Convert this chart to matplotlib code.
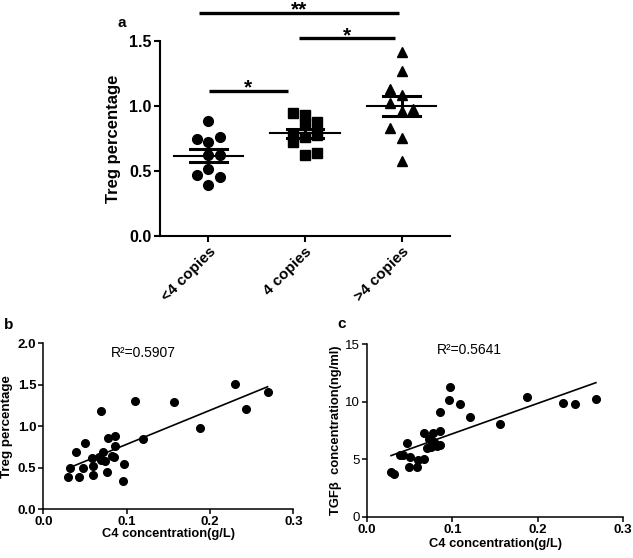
import numpy as np
import matplotlib
matplotlib.use("Agg")
import matplotlib.pyplot as plt

plt.rcParams["font.family"] = ["Liberation Sans", "DejaVu Sans"]

# panel a: Treg percentage by C4 copy number
groups = ["<4 copies", "4 copies", ">4 copies"]
treg_lt4 = [0.885, 0.744, 0.726, 0.760, 0.623, 0.623, 0.469, 0.513, 0.456, 0.392]
treg_eq4 = [0.944, 0.780, 0.720, 0.930, 0.860, 0.760, 0.623, 0.875, 0.780, 0.636]
treg_gt4 = [1.418, 1.270, 1.130, 1.020, 1.085, 0.960, 0.980, 0.830, 0.756, 0.577]
# column of each point in the scatter (-1 left, 0 centre, 1 right)
col_lt4 = [0, -1, 0, 1, 0, 1, -1, 0, 1, 0]
col_eq4 = [-1, -1, -1, 0, 0, 0, 0, 1, 1, 1]
col_gt4 = [0, 0, -1, -1, 0, 0, 1, -1, 0, 0]

# panel b: C4 vs Treg percentage
c4_b = [0.029, 0.032, 0.039, 0.043, 0.048, 0.050, 0.058, 0.059, 0.060, 0.067,
        0.069, 0.069, 0.071, 0.074, 0.076, 0.077, 0.082, 0.085, 0.086, 0.086,
        0.097, 0.096, 0.110, 0.120, 0.157, 0.188, 0.230, 0.243, 0.269]
treg_b = [0.394, 0.494, 0.695, 0.394, 0.494, 0.795, 0.614, 0.522, 0.414, 0.627,
          1.189, 0.594, 0.695, 0.582, 0.454, 0.863, 0.643, 0.635, 0.763, 0.884,
          0.542, 0.341, 1.305, 0.843, 1.293, 0.976, 1.510, 1.213, 1.410]

# panel c: C4 vs TGFb
c4_c = [0.028, 0.032, 0.038, 0.042, 0.047, 0.049, 0.050, 0.058, 0.060, 0.067,
        0.067, 0.070, 0.073, 0.075, 0.077, 0.078, 0.082, 0.085, 0.085, 0.085,
        0.096, 0.097, 0.109, 0.120, 0.156, 0.1875, 0.229, 0.243, 0.268]
tgfb_c = [3.92, 3.71, 5.37, 5.37, 6.38, 4.29, 5.16, 4.35, 4.93, 4.99,
          7.25, 5.95, 6.73, 6.09, 7.25, 6.53, 6.18, 6.24, 7.48, 9.08,
          10.15, 11.26, 9.78, 8.70, 8.07, 10.39, 9.86, 9.78, 10.24]

fig = plt.figure(figsize=(6.33, 5.58), dpi=100)

# ---------------- panel a ----------------
ax = fig.add_axes([0.2528, 0.577, 0.458, 0.3495])
markers = ["o", "s", "^"]
msizes = [7, 6.5, 7]
for i, (vals, cols) in enumerate([(treg_lt4, col_lt4), (treg_eq4, col_eq4), (treg_gt4, col_gt4)]):
    v = np.array(vals)
    x = i + 0.12 * np.array(cols)
    ax.plot(x, v, linestyle="none", marker=markers[i], ms=msizes[i], color="black",
            clip_on=False, zorder=3)
    m = v.mean()
    sem = v.std(ddof=1) / np.sqrt(len(v))
    ax.plot([i - 0.36, i + 0.36], [m, m], color="black", lw=1.5, zorder=4)
    ax.plot([i - 0.19, i + 0.19], [m + sem, m + sem], color="black", lw=2.2, zorder=4)
    ax.plot([i - 0.19, i + 0.19], [m - sem, m - sem], color="black", lw=2.2, zorder=4)
    ax.plot([i, i], [m - sem, m + sem], color="black", lw=2.2, zorder=4)

ax.set_xlim(-0.5, 2.5)
ax.set_ylim(0, 1.5)
ax.set_yticks([0, 0.5, 1.0, 1.5])
ax.set_yticklabels(["0.0", "0.5", "1.0", "1.5"], fontsize=11.5, fontweight="bold")
ax.set_xticks(range(3))
ax.set_xticklabels(groups, rotation=45, ha="right", rotation_mode="anchor",
                   fontsize=11, fontweight="bold")
ax.set_ylabel("Treg percentage", fontsize=12, fontweight="bold", labelpad=6)
for s in ["top", "right"]:
    ax.spines[s].set_visible(False)
for s in ["left", "bottom"]:
    ax.spines[s].set_linewidth(1.5)
ax.tick_params(width=1.5, length=4, pad=2)

# significance bars
sig = [(0.01, 0.82, 1.115, "*"), (0.94, 1.93, 1.52, "*"), (-0.10, 1.97, 1.715, "**")]
for x0, x1, y, lab in sig:
    ax.plot([x0, x1], [y, y], color="black", lw=2.4, clip_on=False, solid_capstyle="butt")
    ax.annotate(lab, xy=((x0 + x1) / 2, y), xytext=(0, -2), textcoords="offset points",
                ha="center", va="baseline", fontsize=15, fontweight="bold",
                annotation_clip=False)

fig.text(122 / 633, 1 - 23 / 558, "a", fontsize=11, fontweight="bold", ha="center", va="center")


# ---------------- scatter panels ----------------
def scatter_panel(rect, xv, yv, ylim, yticks, yticklabels, ybold, ylabel, r2, r2y,
                  ylab_x, xlab_y, ylab_size):
    a = fig.add_axes(rect)
    a.plot(xv, yv, linestyle="none", marker="o", ms=5.5, color="black", clip_on=False)
    k, b = np.polyfit(xv, yv, 1)
    xs = np.array([min(xv), max(xv)])
    a.plot(xs, k * xs + b, color="black", lw=1.2)
    a.set_xlim(0, 0.3)
    a.set_ylim(*ylim)
    a.set_xticks([0, 0.1, 0.2, 0.3])
    a.set_xticklabels(["0.0", "0.1", "0.2", "0.3"], fontsize=9.5, fontweight="bold")
    a.set_yticks(yticks)
    a.set_yticklabels(yticklabels, fontsize=9.5, fontweight=ybold)
    a.set_xlabel("C4 concentration(g/L)", fontsize=9.3, fontweight="bold")
    a.set_ylabel(ylabel, fontsize=ylab_size, fontweight="bold")
    a.yaxis.set_label_coords(ylab_x, 0.5)
    a.xaxis.set_label_coords(0.5, xlab_y)
    for s in ["top", "right"]:
        a.spines[s].set_visible(False)
    for s in ["left", "bottom"]:
        a.spines[s].set_linewidth(1.1)
    a.tick_params(width=1.1, length=3.5, pad=1.5)
    a.text(0.12, r2y, "R\u00b2=" + r2, ha="center", va="center", fontsize=10)
    return a


scatter_panel([0.0685, 0.0873, 0.395, 0.2975], c4_b, treg_b, (0, 2.0),
              [0, 0.5, 1.0, 1.5, 2.0], ["0.0", "0.5", "1.0", "1.5", "2.0"], "bold",
              "Treg percentage", "0.5907", 1.88, -0.12, -0.11, 9.6)
scatter_panel([0.580, 0.074, 0.4045, 0.309], c4_c, tgfb_c, (0, 15),
              [0, 5, 10, 15], ["0", "5", "10", "15"], "normal",
              "TGF\u03b2  concentration(ng/ml)", "0.5641", 14.5, -0.099, -0.125, 9.4)

fig.text(9 / 633, 1 - 325 / 558, "b", fontsize=11, fontweight="bold", ha="center", va="center")
fig.text(342 / 633, 1 - 324 / 558, "c", fontsize=11, fontweight="bold", ha="center", va="center")

fig.savefig("out.png", dpi=100)
